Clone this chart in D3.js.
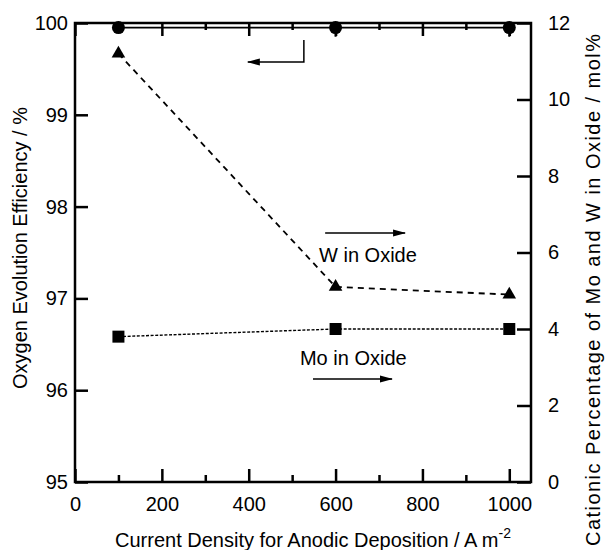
<!DOCTYPE html>
<html><head><meta charset="utf-8">
<script src="https://cdn.jsdelivr.net/npm/d3@7"></script>
<style>
body{margin:0;background:#fff;}
svg{font-family:"Liberation Sans",Arial,Helvetica,sans-serif;}
</style></head>
<body><svg id="c" width="607" height="550"></svg>
<script>
// ---- data ----
const currentDensity = [100, 600, 1000];
const efficiency = [99.95, 99.95, 99.95];
const efficiencyErr = [0, 0.1, 0.1];
const wInOxide = [11.2, 5.1, 4.9];
const moInOxide = [3.8, 4.0, 4.0];
const xMajorTicks = [0, 200, 400, 600, 800, 1000];
const xMinorTicks = [100, 300, 500, 700, 900];
const yLeftTicks = [95, 96, 97, 98, 99, 100];
const yRightTicks = [0, 2, 4, 6, 8, 10, 12];

const svg = d3.select("#c");
const L = 75, R = 531, T = 23, B = 482;
const x = d3.scaleLinear([0, 1050], [L, R]);
const yL = d3.scaleLinear([95, 100], [B, T]);
const yR = d3.scaleLinear([0, 12], [B, T]);

const defs = svg.append("defs");
defs.append("clipPath").attr("id","plot")
  .append("rect").attr("x",L).attr("y",T).attr("width",R-L).attr("height",B-T);
defs.append("marker").attr("id","ah").attr("viewBox","0 0 13 8")
  .attr("refX",12).attr("refY",4).attr("markerWidth",13).attr("markerHeight",8)
  .attr("markerUnits","userSpaceOnUse").attr("orient","auto")
  .append("path").attr("d","M0,0.5 L13,4 L0,7.5 Z").attr("fill","#000");

function styleAxis(g, fs){
  g.selectAll("path.domain").remove();
  g.selectAll("line").attr("stroke","#000").attr("stroke-width",2.5);
  g.selectAll("text").attr("font-size",fs).attr("fill","#000");
}
const fmt = d3.format("d");
// bottom
svg.append("g").attr("transform",`translate(0,${B})`)
  .call(d3.axisBottom(x).tickValues(xMajorTicks).tickSizeInner(-13).tickSizeOuter(0).tickPadding(15).tickFormat(fmt))
  .call(g=>styleAxis(g,20));
svg.append("g").attr("transform",`translate(0,${B})`)
  .call(d3.axisBottom(x).tickValues(xMinorTicks).tickSizeInner(-7).tickSizeOuter(0).tickFormat(""))
  .call(g=>styleAxis(g,20));
// top
svg.append("g").attr("transform",`translate(0,${T})`)
  .call(d3.axisTop(x).tickValues(xMajorTicks).tickSizeInner(-13).tickSizeOuter(0).tickFormat(""))
  .call(g=>styleAxis(g,20));
svg.append("g").attr("transform",`translate(0,${T})`)
  .call(d3.axisTop(x).tickValues(xMinorTicks).tickSizeInner(-7).tickSizeOuter(0).tickFormat(""))
  .call(g=>styleAxis(g,20));
// left
svg.append("g").attr("transform",`translate(${L},0)`)
  .call(d3.axisLeft(yL).tickValues(yLeftTicks).tickSizeInner(-13).tickSizeOuter(0).tickPadding(7).tickFormat(fmt))
  .call(g=>styleAxis(g,20));
// right
svg.append("g").attr("transform",`translate(${R},0)`)
  .call(d3.axisRight(yR).tickValues(yRightTicks).tickSizeInner(-14).tickSizeOuter(0).tickPadding(17).tickFormat(fmt))
  .call(g=>styleAxis(g,20));

// frame
svg.append("rect").attr("x",L).attr("y",T).attr("width",R-L).attr("height",B-T)
  .attr("fill","none").attr("stroke","#000").attr("stroke-width",2.5);

// axis titles
svg.append("text").attr("transform",`translate(26.5,248) rotate(-90)`)
  .attr("text-anchor","middle").attr("font-size",20).text("Oxygen Evolution Efficiency / %");
svg.append("text").attr("transform",`translate(600,290) rotate(-90)`)
  .attr("text-anchor","middle").attr("font-size",20)
  .attr("textLength",512).attr("lengthAdjust","spacing")
  .text("Cationic Percentage of Mo and W in Oxide / mol%");
const xt = svg.append("text").attr("x",313).attr("y",547).attr("text-anchor","middle").attr("font-size",20);
xt.append("tspan").text("Current Density for Anodic Deposition / A m");
xt.append("tspan").attr("font-size",14).attr("dy",-9).text("-2");

// data
const idx = d3.range(currentDensity.length);
// efficiency line + error bars + circles
svg.append("path").datum(idx)
  .attr("d", d3.line().x(i=>x(currentDensity[i])).y(i=>yL(efficiency[i])))
  .attr("fill","none").attr("stroke","#000").attr("stroke-width",1.6);
svg.append("g").attr("clip-path","url(#plot)").selectAll("line").data(idx).join("line")
  .attr("x1",i=>x(currentDensity[i])).attr("x2",i=>x(currentDensity[i]))
  .attr("y1",i=>yL(efficiency[i]+efficiencyErr[i])).attr("y2",i=>yL(efficiency[i]-efficiencyErr[i]))
  .attr("stroke","#000").attr("stroke-width",2);
svg.append("g").selectAll("circle").data(idx).join("circle")
  .attr("cx",i=>x(currentDensity[i])).attr("cy",i=>yL(efficiency[i])).attr("r",6.5).attr("fill","#000");

// W line (dashed) + triangles
svg.append("path").datum(idx)
  .attr("d", d3.line().x(i=>x(currentDensity[i])).y(i=>yR(wInOxide[i])))
  .attr("fill","none").attr("stroke","#000").attr("stroke-width",1.8).attr("stroke-dasharray","6,5");
svg.append("g").selectAll("path").data(idx).join("path")
  .attr("transform",i=>`translate(${x(currentDensity[i])},${yR(wInOxide[i])})`)
  .attr("d", d3.symbol(d3.symbolTriangle, 80)()).attr("fill","#000");

// Mo line (dotted) + squares
svg.append("path").datum(idx)
  .attr("d", d3.line().x(i=>x(currentDensity[i])).y(i=>yR(moInOxide[i])))
  .attr("fill","none").attr("stroke","#000").attr("stroke-width",1.4).attr("stroke-dasharray","3,1.6");
svg.append("g").selectAll("path").data(idx).join("path")
  .attr("transform",i=>`translate(${x(currentDensity[i])},${yR(moInOxide[i])})`)
  .attr("d", d3.symbol(d3.symbolSquare, 144)()).attr("fill","#000");

// annotations (in data units)
const effArrow = [[527, 99.815], [527, 99.575], [398, 99.575]];
svg.append("path").datum(effArrow)
  .attr("d", d3.line().x(d=>x(d[0])).y(d=>yL(d[1])))
  .attr("fill","none").attr("stroke","#000").attr("stroke-width",1.5).attr("marker-end","url(#ah)");
const wArrow = [[576, 6.51], [760, 6.51]];
svg.append("path").datum(wArrow)
  .attr("d", d3.line().x(d=>x(d[0])).y(d=>yR(d[1])))
  .attr("fill","none").attr("stroke","#000").attr("stroke-width",1.5).attr("marker-end","url(#ah)");
const moArrow = [[548, 2.69], [730, 2.69]];
svg.append("path").datum(moArrow)
  .attr("d", d3.line().x(d=>x(d[0])).y(d=>yR(d[1])))
  .attr("fill","none").attr("stroke","#000").attr("stroke-width",1.5).attr("marker-end","url(#ah)");
svg.append("text").attr("x",x(562)).attr("y",yR(5.75)).attr("font-size",20).text("W in Oxide");
svg.append("text").attr("x",x(518)).attr("y",yR(3.06)).attr("font-size",20).text("Mo in Oxide");
</script></body></html>
